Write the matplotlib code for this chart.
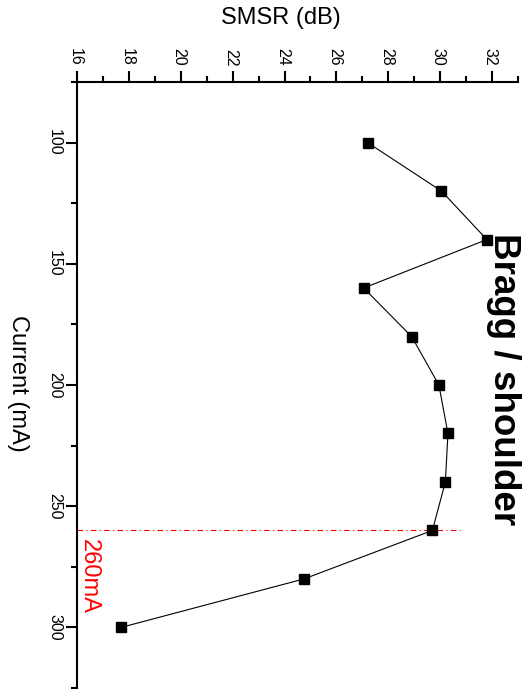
import matplotlib
matplotlib.use("Agg")
import matplotlib.pyplot as plt
from matplotlib.ticker import MultipleLocator
from matplotlib.transforms import ScaledTranslation

plt.rcParams['font.family'] = ['Liberation Sans', 'DejaVu Sans']

# Bias current (mA) and side-mode suppression ratio (dB)
current_ma = [100, 120, 140, 160, 180, 200, 220, 240, 260, 280, 300]
smsr_db = [27.2, 30.05, 31.8, 27.05, 28.9, 29.95, 30.3, 30.2, 29.7, 24.75, 17.7]

marker_current = 260
marker_label = "260mA"
title_text = "Bragg / shoulder"

fig = plt.figure(figsize=(5.25, 6.9), dpi=100)
ax = fig.add_axes([77 / 525, 1 - 688 / 690, (518 - 77) / 525, (688 - 82) / 690])

ax.plot(smsr_db, current_ma, color='black', lw=0.8, marker='s', ms=6.5,
        mec='black', mfc='black', zorder=3)

ax.hlines(marker_current, 16, 30.75, color='red', lw=0.8,
          linestyles=[(0, (5, 3, 1, 3))], zorder=2)
ax.text(16.45, 278.8, marker_label, color='red', fontsize=17, rotation=-90,
        ha='center', va='center')

ax.set_xlim(16, 33)
ax.set_ylim(325, 75)

ax.xaxis.tick_top()
ax.xaxis.set_major_locator(MultipleLocator(2))
ax.xaxis.set_minor_locator(MultipleLocator(1))
ax.yaxis.set_major_locator(MultipleLocator(50))
ax.yaxis.set_minor_locator(MultipleLocator(25))

for side in ('right', 'bottom'):
    ax.spines[side].set_visible(False)
for side in ('top', 'left'):
    ax.spines[side].set_linewidth(1.5)

ax.tick_params(which='major', length=8, width=1.5, labelsize=11.5)
ax.tick_params(which='minor', length=4, width=1.5)
ax.tick_params(axis='x', which='major', labelrotation=-90, pad=3.5)
ax.tick_params(axis='y', which='major', labelrotation=-90, pad=2.7)
for lab in ax.get_yticklabels():
    lab.set_verticalalignment('center')

# nudge the rotated top labels so the digits sit centred on their ticks
shift = ScaledTranslation(-2 / 100, 0, fig.dpi_scale_trans)
for tick in ax.xaxis.get_major_ticks():
    tick.label2.set_transform(tick.label2.get_transform() + shift)

fig.text(281 / 525, 1 - 18 / 690, "SMSR (dB)", fontsize=17,
         ha='center', va='center')
fig.text(17.5 / 525, 1 - 383.5 / 690, "Current (mA)", fontsize=17,
         rotation=-90, ha='center', va='center')
fig.text(503 / 525, 1 - 379 / 690, title_text, fontsize=26.5,
         fontweight='bold', rotation=-90, ha='center', va='center')

fig.savefig("out.png", dpi=100)
